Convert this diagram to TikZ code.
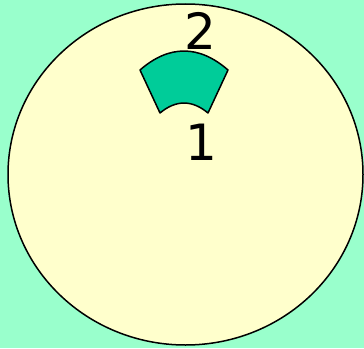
\documentclass[tikz,border=0pt]{standalone}
\usepackage{fontspec}
\setmainfont{DejaVu Sans}
\definecolor{bgmint}{HTML}{99FFCC}
\definecolor{paleyellow}{HTML}{FFFFCC}
\definecolor{sectorteal}{HTML}{00CC99}
\begin{document}
\begin{tikzpicture}[x=1pt,y=-1pt,
  outline/.style={draw=black,line width=1.5pt},
  digit/.style={font=\fontsize{50}{50}\selectfont,inner sep=0pt}]
\fill[bgmint] (0,0) rectangle (364,348);
\useasboundingbox (0,0) rectangle (364,348);
\draw[outline,fill=paleyellow] (185.5,174.5) ellipse [x radius=177.5, y radius=170.5];
\draw[outline,fill=sectorteal,line join=round]
  (140,70) .. controls (169,44.7) and (199,44.7) .. (228,70)
  -- (208,113) .. controls (192,99.7) and (176,99.7) .. (160,113) -- cycle;
\node[digit] (two) at (200,31) {2};
\node[digit] (one) at (201,142) {1};
\end{tikzpicture}
\end{document}
